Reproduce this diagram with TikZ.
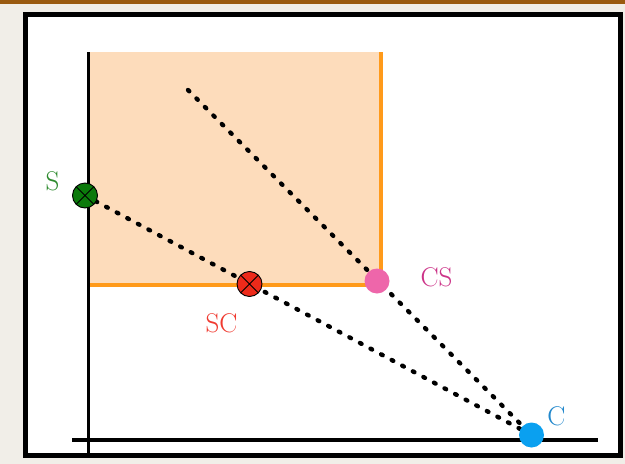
\documentclass[tikz,border=0pt]{standalone}
\definecolor{bgbeige}{HTML}{F1EEE8}
\definecolor{topbrown}{HTML}{9A5A10}
\definecolor{peach}{HTML}{FDDCBB}
\definecolor{orangeline}{HTML}{FF9A1A}
\definecolor{sfill}{HTML}{0B7A0B}
\definecolor{slab}{HTML}{2E8B2E}
\definecolor{scfill}{HTML}{EE2A1A}
\definecolor{sclab}{HTML}{F03A30}
\definecolor{csfill}{HTML}{EE66AA}
\definecolor{cslab}{HTML}{CC3388}
\definecolor{cfill}{HTML}{0AA0F0}
\definecolor{clab}{HTML}{2288CC}
\begin{document}
\begin{tikzpicture}[x=1pt,y=-1pt,
  axisline/.style={line width=3.4pt,black},
  edgeline/.style={line width=3.2pt,orangeline},
  dotline/.style={line width=4.4pt,black,line cap=round,dash pattern=on 1.8pt off 10.2pt},
  xpoint/.style={circle,draw=black,line width=0.9pt,minimum size=25pt,inner sep=0pt,
    path picture={\draw[line width=0.9pt] (path picture bounding box.north west) -- (path picture bounding box.south east)
      (path picture bounding box.north east) -- (path picture bounding box.south west);}},
  dpoint/.style={circle,minimum size=25pt,inner sep=0pt},
  lab/.style={inner sep=0pt,font=\fontsize{27}{30}\selectfont}]
\useasboundingbox (0,0) rectangle (625,464);
\fill[bgbeige] (0,0) rectangle (625,464);
\fill[topbrown] (0,0) rectangle (625,3.5);
\draw[line width=5pt,fill=white] (25.5,14.5) rectangle (620.5,455.5);
% shaded region
\fill[peach] (90,52) rectangle (381,285);
\draw[edgeline] (381,52) -- (381,285) -- (90,285);
% axes
\draw[axisline] (88.5,52) -- (88.5,453.5);
\draw[axisline] (72,440) -- (598,440);
% points
\coordinate (pS) at (85,195.5);
\coordinate (pSC) at (249.5,284);
\coordinate (pCS) at (377,281);
\coordinate (pC) at (531.5,435);
\coordinate (top) at (188,90);
\draw[dotline] (top) -- (pC);
\draw[dotline] (pS) -- (pC);
\node[xpoint,fill=sfill] (S) at (pS) {};
\node[xpoint,fill=scfill] (SC) at (pSC) {};
\node[dpoint,fill=csfill] (CS) at (pCS) {};
\node[dpoint,fill=cfill] (C) at (pC) {};
% labels
\node[lab,text=slab] (lS) at (52.5,181.5) {S};
\node[lab,text=sclab] (lSC) at (221.5,323) {SC};
\node[lab,text=cslab] (lCS) at (436.5,277) {CS};
\node[lab,text=clab] (lC) at (556.5,416.5) {C};
\end{tikzpicture}
\end{document}
